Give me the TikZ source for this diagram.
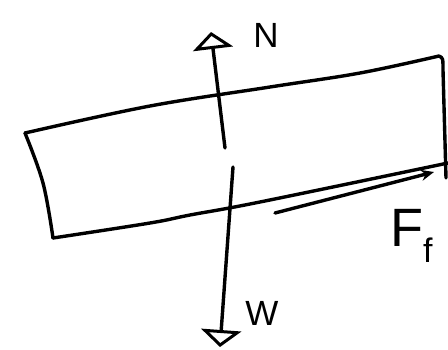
\documentclass[tikz,border=0pt]{standalone}
\usepackage{fontspec}
\setmainfont{Liberation Sans}
\usetikzlibrary{arrows.meta}
\begin{document}
\begin{tikzpicture}[x=1pt,y=-1pt,
  stroke/.style={line width=3.4pt, line cap=round, line join=round},
  forcearrow/.style={stroke, -{Triangle[open, length=17pt, width=40pt, line width=3pt]}},
  smallarrow/.style={stroke, -{Stealth[length=13pt, width=11pt]}},
  lbl/.style={inner sep=0pt, font=\fontsize{35}{35}\selectfont}]
\useasboundingbox (0,0) rectangle (448,349);
% board
\coordinate (tl) at (25,133);
\coordinate (tr) at (439,56);
\coordinate (bl) at (53,238);
\coordinate (brt) at (446,178);
\coordinate (bre) at (448,163);
\draw[stroke] plot[smooth, tension=0.6] coordinates {(tl) (150,106) (270,87) (360,73) (tr)};
\draw[stroke] (tr) .. controls (443,58) .. (443,70) -- (brt);
\draw[stroke] plot[smooth, tension=0.6] coordinates {(tl) (43,183) (bl)};
\draw[stroke] plot[smooth, tension=0.6] coordinates {(bl) (150,223) (190,215) (260,202) (bre)};
% forces
\coordinate (nstart) at (225,148);
\coordinate (ntip) at (211,32);
\coordinate (wstart) at (233,167);
\coordinate (wtip) at (220,347);
\coordinate (fstart) at (275,213);
\coordinate (ftip) at (434,172);
\draw[forcearrow] (nstart) -- (ntip);
\draw[forcearrow] (wstart) -- (wtip);
\draw[smallarrow] (fstart) -- (ftip);
% labels
\node[lbl] (N) at (266,35) {N};
\node[lbl] (W) at (262,313) {W};
\node[lbl, font=\fontsize{54}{54}\selectfont, anchor=base west] (F) at (390,246) {F\raisebox{-0.3em}{\fontsize{34}{34}\selectfont f}};
\end{tikzpicture}
\end{document}
